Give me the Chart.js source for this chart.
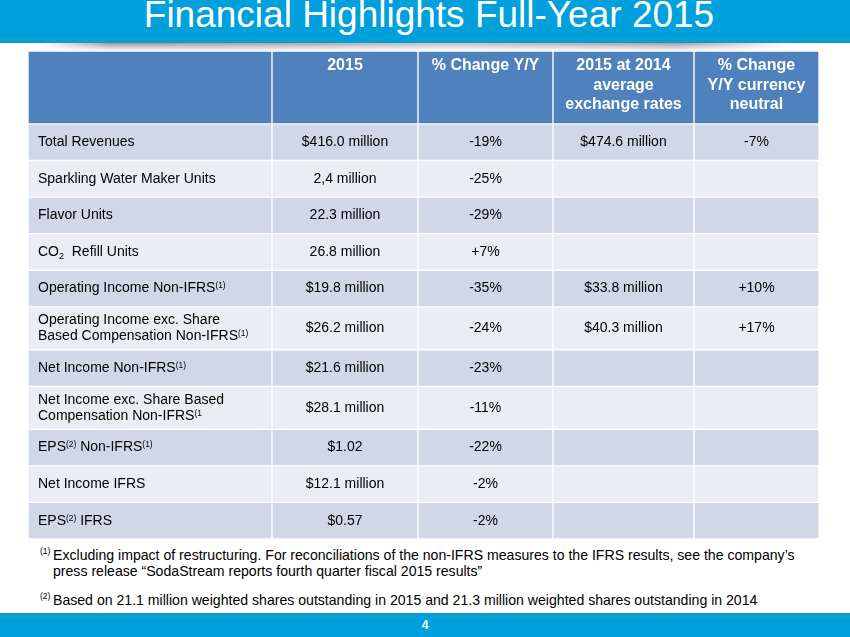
<!DOCTYPE html>
<html>
<head>
<meta charset="utf-8">
<script src="https://cdn.jsdelivr.net/npm/chart.js@4.4.1/dist/chart.umd.min.js"></script>
<style>
    html, body { margin: 0; padding: 0; background: #fff; }
    body { width: 850px; height: 637px; position: relative; overflow: hidden; font-family: "Liberation Sans", Arial, sans-serif; }
    #title { position: absolute; left: 0; top: 0; width: 850px; height: 43px; background: #00a0dc; color: #fff;
             font-size: 37px; line-height: 30px; text-align: center; white-space: nowrap; }
    #title span { position: relative; left: 4px; }
    #shade { position: absolute; left: 0; top: 43px; width: 850px; height: 8px;
             background: linear-gradient(to bottom, rgba(255,255,255,0) 0%, #fff 100%),
                         linear-gradient(to right, rgba(255,255,255,0) 40px, #9a9a9a 110px, #a8a8a8 300px, #c4c4c4 450px, #a0a0a0 680px, rgba(255,255,255,0) 790px); }
    #tableWrap { position: absolute; left: 28px; top: 51px; width: 791px; height: 488px; }
    .fn { position: absolute; left: 53px; font-size: 14.1px; line-height: 16px; color: #000; white-space: nowrap; }
    .fn sup { position: absolute; left: -13px; top: -4px; font-size: 8.5px; }
    #fn1 { top: 547px; }
    #fn2 { top: 592px; }
    #footer { position: absolute; left: 0; top: 613px; width: 850px; height: 24px; background: #00a0dc;
              color: #fff; font-weight: bold; font-size: 12px; line-height: 24px; text-align: center; }
</style>
</head>
<body>
<div id="title"><span>Financial Highlights Full-Year 2015</span></div>
<div id="shade"></div>
<div id="tableWrap"><canvas id="tableChart" width="791" height="488"></canvas></div>
<div class="fn" id="fn1"><sup>(1)</sup>Excluding impact of restructuring. For reconciliations of the non-IFRS measures to the IFRS results, see the company’s<br>press release “SodaStream reports fourth quarter fiscal 2015 results”</div>
<div class="fn" id="fn2"><sup>(2)</sup>Based on 21.1 million weighted shares outstanding in 2015 and 21.3 million weighted shares outstanding in 2014</div>
<div id="footer">4</div>

<script>
    // table content
    const headers = ["", "2015", "% Change Y/Y", "2015 at 2014\naverage\nexchange rates", "% Change\nY/Y currency\nneutral"];

    const metrics = [
        "Total Revenues",
        "Sparkling Water Maker Units",
        "Flavor Units",
        "CO_{2}  Refill Units",
        "Operating Income Non-IFRS^{(1)}",
        "Operating Income exc. Share\nBased Compensation Non-IFRS^{(1)}",
        "Net Income Non-IFRS^{(1)}",
        "Net Income exc. Share Based\nCompensation Non-IFRS^{(1}",
        "EPS^{(2)} Non-IFRS^{(1)}",
        "Net Income IFRS",
        "EPS^{(2)} IFRS"
    ];

    const values2015 = ["$416.0 million", "2,4 million", "22.3 million", "26.8 million", "$19.8 million", "$26.2 million",
        "$21.6 million", "$28.1 million", "$1.02", "$12.1 million", "$0.57"];

    const changeYoY = ["-19%", "-25%", "-29%", "+7%", "-35%", "-24%", "-23%", "-11%", "-22%", "-2%", "-2%"];

    const at2014Rates = ["$474.6 million", "", "", "", "$33.8 million", "$40.3 million", "", "", "", "", ""];

    const changeNeutral = ["-7%", "", "", "", "+10%", "+17%", "", "", "", "", ""];

    // layout
    const colWidths = [244, 146, 135, 141, 125];
    const headerHeight = 73;
    const singleRowHeight = 36.6;
    const doubleRowHeight = 43;
    const FONT = '"Liberation Sans", Arial, sans-serif';

    const colEdges = colWidths.reduce((acc, w) => { acc.push(acc[acc.length - 1] + w); return acc; }, [0]);
    const totalWidth = colEdges[colEdges.length - 1];

    const headerCells = headers.map((h, c) => ({
        x: [colEdges[c], colEdges[c + 1]],
        y: headerHeight / 2,
        text: h,
        col: c
    }));

    const singleCells = [];
    const doubleCells = [];
    let rowTop = headerHeight;
    metrics.forEach((label, r) => {
        const lines = label.split("\n").length;
        const h = lines > 1 ? doubleRowHeight : singleRowHeight;
        const cells = [label, values2015[r], changeYoY[r], at2014Rates[r], changeNeutral[r]];
        cells.forEach((text, c) => {
            (lines > 1 ? doubleCells : singleCells).push({
                x: [colEdges[c], colEdges[c + 1]],
                y: rowTop + h / 2,
                text,
                row: r,
                col: c
            });
        });
        rowTop += h;
    });
    const totalHeight = rowTop;

    const rowColor = (ctx) => (ctx.raw && ctx.raw.row % 2 ? "#e9edf4" : "#d0d8e8");

    const drawRich = (ctx, text, x, y, align, size) => {
        const parts = text.split(/(\^\{[^}]*\}|_\{[^}]*\})/).filter(Boolean).map(p => {
            if (p[0] === "^") return { t: p.slice(2, -1), s: size * 0.6, dy: -2.5 };
            if (p[0] === "_") return { t: p.slice(2, -1), s: size * 0.64, dy: 4.5 };
            return { t: p, s: size, dy: 0 };
        });
        let w = 0;
        parts.forEach(p => {
            ctx.font = `${p.s}px ${FONT}`;
            p.w = ctx.measureText(p.t).width;
            w += p.w;
        });
        let cx = align === "center" ? x - w / 2 : x;
        ctx.textAlign = "left";
        ctx.textBaseline = "middle";
        parts.forEach(p => {
            ctx.font = `${p.s}px ${FONT}`;
            ctx.fillText(p.t, cx, y + p.dy);
            cx += p.w;
        });
    };

    const cellText = {
        id: "cellText",
        afterDatasetsDraw(chart) {
            const ctx = chart.ctx;
            ctx.save();
            chart.data.datasets.forEach((ds, di) => {
                chart.getDatasetMeta(di).data.forEach((bar, i) => {
                    const raw = ds.data[i];
                    if (!raw.text) return;
                    const { x, base, y, height } = bar.getProps(["x", "base", "y", "height"], true);
                    const left = Math.min(x, base);
                    const right = Math.max(x, base);
                    const lines = raw.text.split("\n");

                    if (ds.isHeader) {
                        ctx.fillStyle = "#fff";
                        ctx.font = `bold 16px ${FONT}`;
                        ctx.textAlign = "center";
                        ctx.textBaseline = "middle";
                        lines.forEach((ln, k) => {
                            ctx.fillText(ln, (left + right) / 2, y - height / 2 + 15 + k * 19.5);
                        });
                        return;
                    }

                    ctx.fillStyle = "#000";
                    lines.forEach((ln, k) => {
                        const ly = y + (k - (lines.length - 1) / 2) * 16;
                        if (raw.col === 0) drawRich(ctx, ln, left + 10, ly, "left", 14);
                        else drawRich(ctx, ln, (left + right) / 2, ly, "center", 14);
                    });
                });
            });
            ctx.restore();
        }
    };

    const cellStyle = {
        borderColor: "#fff",
        borderWidth: 1,
        borderSkipped: false,
        grouped: false
    };

    new Chart(document.getElementById("tableChart"), {
        type: "bar",
        data: {
            datasets: [
                { ...cellStyle, label: "header", isHeader: true, data: headerCells, backgroundColor: "#4f81bd", barThickness: headerHeight },
                { ...cellStyle, label: "rows", data: singleCells, backgroundColor: rowColor, barThickness: singleRowHeight },
                { ...cellStyle, label: "rows2", data: doubleCells, backgroundColor: rowColor, barThickness: doubleRowHeight }
            ]
        },
        options: {
            indexAxis: "y",
            responsive: false,
            animation: false,
            layout: { padding: 0 },
            plugins: { legend: { display: false }, tooltip: { enabled: false } },
            scales: {
                x: { type: "linear", min: 0, max: totalWidth, display: false },
                y: { type: "linear", min: 0, max: totalHeight, reverse: true, display: false, offset: false }
            }
        },
        plugins: [cellText]
    });
</script>
</body>
</html>
